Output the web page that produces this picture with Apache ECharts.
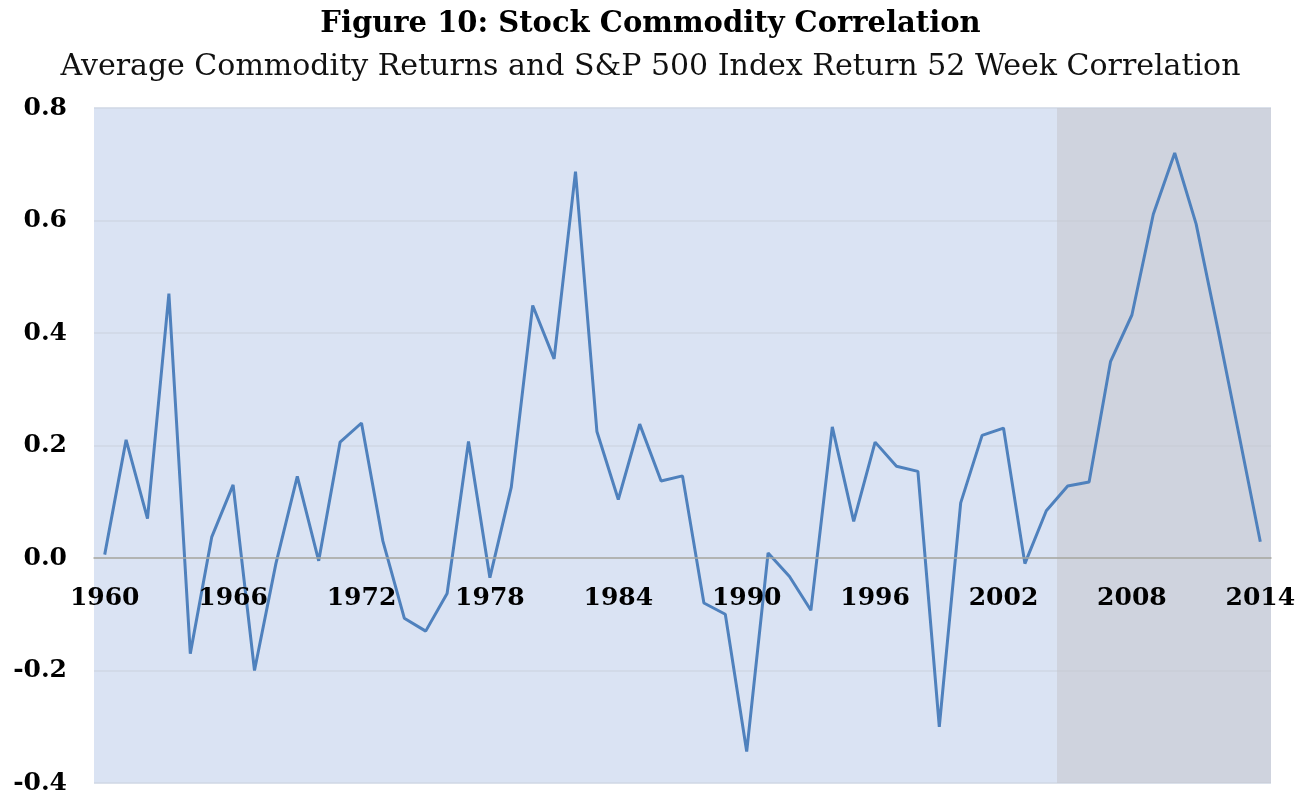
<!DOCTYPE html>
<html>
<head>
<meta charset="utf-8">
<title>Stock Commodity Correlation</title>
<script src="https://cdn.jsdelivr.net/npm/echarts@6/dist/echarts.min.js"></script>
<style>
    html, body { margin: 0; padding: 0; background: #ffffff; }
    #chart { width: 1301px; height: 795px; }
</style>
</head>
<body>
<div id="chart"></div>
<script>

var years = ['1960', '1961', '1962', '1963', '1964', '1965', '1966', '1967', '1968', '1969',
    '1970', '1971', '1972', '1973', '1974', '1975', '1976', '1977', '1978', '1979',
    '1980', '1981', '1982', '1983', '1984', '1985', '1986', '1987', '1988', '1989',
    '1990', '1991', '1992', '1993', '1994', '1995', '1996', '1997', '1998', '1999',
    '2000', '2001', '2002', '2003', '2004', '2005', '2006', '2007', '2008', '2009',
    '2010', '2011', '2012', '2013', '2014'];

var correlation = [0.006, 0.21, 0.07, 0.47, -0.17, 0.037, 0.13, -0.20, -0.01, 0.145,
    -0.005, 0.206, 0.24, 0.03, -0.107, -0.13, -0.063, 0.207, -0.035, 0.126,
    0.449, 0.354, 0.687, 0.225, 0.104, 0.238, 0.137, 0.146, -0.08, -0.10,
    -0.344, 0.009, -0.033, -0.093, 0.233, 0.065, 0.206, 0.163, 0.154, -0.30,
    0.098, 0.218, 0.231, -0.01, 0.084, 0.128, 0.135, 0.349, 0.432, 0.611,
    0.72, 0.594, 0.41, 0.22, 0.029];

// shaded period at the right of the chart (whole year bands)
var shadeFrom = '2005';
var shadeTo = '2014';

var yTicks = [-0.4, -0.2, 0.0, 0.2, 0.4, 0.6, 0.8];

function drawChart() {
    var chart = echarts.init(document.getElementById('chart'));

    var gridTop = 108, gridBottom = 12;
    var plotH = 795 - gridTop - gridBottom;
    var yMin = yTicks[0], yMax = yTicks[yTicks.length - 1];
    // x axis sits on the zero line, as in the original
    var zeroOffset = -plotH * (0 - yMin) / (yMax - yMin);

    // band edges in year-index units, used on a hidden value axis
    var i0 = years.indexOf(shadeFrom) - 0.5;
    var i1 = years.indexOf(shadeTo) + 0.5;

    var option = {
        animation: false,
        title: [{
            text: 'Figure 10: Stock Commodity Correlation',
            left: 'center',
            top: 5,
            textStyle: {
                fontFamily: 'DejaVu Serif',
                fontWeight: 'bold',
                fontSize: 29,
                color: '#000000'
            }
        }, {
            text: 'Average Commodity Returns and S&P 500 Index Return 52 Week Correlation',
            left: 'center',
            top: 47,
            textStyle: {
                fontFamily: 'DejaVu Serif',
                fontWeight: 'normal',
                fontSize: 30,
                color: '#111111'
            }
        }],
        grid: {
            left: 94,
            right: 30,
            top: gridTop,
            bottom: gridBottom,
            containLabel: false,
            outerBoundsMode: 'none',
            show: true,
            backgroundColor: '#dae3f3',
            borderWidth: 0
        },
        xAxis: [{
            type: 'category',
            data: years,
            boundaryGap: true,
            offset: zeroOffset,
            z: 10,
            axisLine: { onZero: false, lineStyle: { color: '#a8a8a0', width: 1.5 } },
            axisTick: { show: false },
            axisLabel: {
                interval: 5,
                margin: 28,
                fontFamily: 'DejaVu Serif',
                fontWeight: 'bold',
                fontSize: 25,
                color: '#000000'
            },
            splitLine: { show: false }
        }, {
            type: 'value',
            show: false,
            min: -0.5,
            max: years.length - 0.5,
            splitLine: { show: false }
        }],
        yAxis: {
            type: 'value',
            min: yMin,
            max: yMax,
            interval: 0.2,
            axisLine: { show: false },
            axisTick: { show: false },
            axisLabel: {
                margin: 27,
                fontFamily: 'DejaVu Serif',
                fontWeight: 'bold',
                fontSize: 25,
                color: '#000000',
                formatter: function (v) { return v.toFixed(1); }
            },
            splitLine: { lineStyle: { color: '#cfd7e5', width: 1.5 } }
        },
        series: [{
            type: 'line',
            xAxisIndex: 1,
            data: [],
            z: 1,
            silent: true,
            markArea: {
                silent: true,
                itemStyle: { color: 'rgba(196,195,201,0.5)' },
                data: [[{ xAxis: i0 }, { xAxis: i1 }]]
            }
        }, {
            type: 'line',
            xAxisIndex: 0,
            data: correlation,
            symbol: 'none',
            lineStyle: { color: '#4f81bd', width: 3 },
            z: 3
        }]
    };

    chart.setOption(option);
}

drawChart();
</script>
</body>
</html>
